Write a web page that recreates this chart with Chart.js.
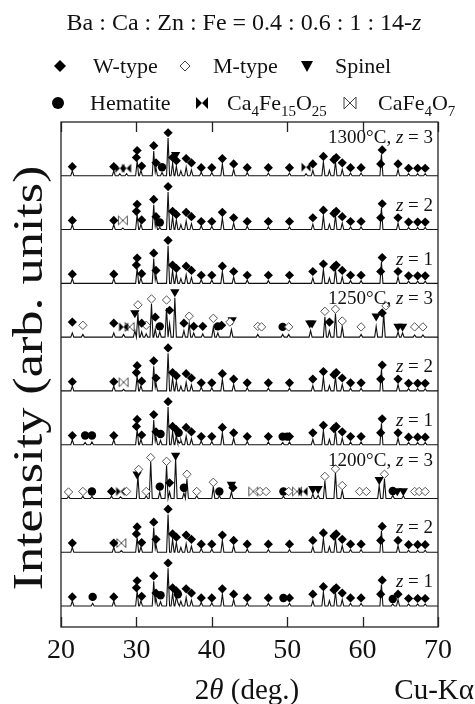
<!DOCTYPE html>
<html>
<head>
<meta charset="utf-8">
<script src="https://cdn.jsdelivr.net/npm/chart.js@4.4.1/dist/chart.umd.min.js"></script>
<style>
  html, body { margin: 0; padding: 0; background: #fff; }
  canvas { display: block; }
</style>
</head>
<body>
<canvas id="xrdChart" width="475" height="704"></canvas>
<script>
const SERIF = '"Liberation Serif", "DejaVu Serif", serif';

// patterns from top to bottom
const patternTemps = ['1300°C, ', '', '', '1250°C, ', '', '', '1200°C, ', '', ''];
const patternZ = [3, 2, 1, 3, 2, 1, 3, 2, 1];
const xTicks = [20, 30, 40, 50, 60, 70];
const patternSpacing = 100;

// W-type pattern: peaks [2theta, intensity] and marker heights
const wPeaks = [[21.5, 9], [27.0, 9], [30.1, 28], [30.6, 10], [32.3, 46], [32.6, 14], [34.2, 70], [34.8, 24], [35.3, 18], [35.9, 9], [36.6, 16], [37.3, 11], [38.6, 7], [40.0, 6], [41.4, 22], [42.9, 12], [44.7, 6], [47.5, 5], [50.3, 5], [53.4, 10], [54.8, 26], [55.6, 10], [56.4, 26], [57.3, 12], [58.4, 5], [59.8, 5], [62.5, 40], [64.7, 12], [66.1, 4], [67.3, 4], [68.3, 4]];
const wMarks = [[21.5, 17], [27.0, 17], [30.0, 34], [30.1, 47], [30.7, 18], [32.3, 56], [32.6, 24], [34.2, 80], [34.8, 34], [35.3, 28], [36.6, 32], [37.3, 24], [38.6, 15], [40.0, 15], [41.4, 32], [42.9, 22], [44.7, 15], [47.5, 15], [50.3, 15], [53.4, 22], [54.8, 36], [56.2, 30], [56.5, 34], [57.3, 24], [58.4, 15], [59.8, 15], [62.4, 22], [62.6, 48], [64.7, 22], [66.1, 14], [67.3, 14], [68.3, 14]];

// extra peaks on top of the W-type pattern
const p0Extra = [[27.8, 4], [28.7, 4], [33.4, 6], [52.5, 4]];
const p1Extra = [[28.2, 3], [33.1, 4]];
const p4Extra = [[28.3, 3]];
const p5Extra = [[23.2, 4], [24.1, 5], [33.2, 8], [35.6, 6], [49.4, 4]];
const p7Extra = [[28.0, 3]];
const p8Extra = [[24.2, 5], [33.2, 8], [35.5, 6], [64.0, 4]];

// 1250 C, z = 3
const p3Peaks = [[21.5, 8], [22.9, 5], [27.0, 8], [28.3, 5], [29.8, 12], [30.2, 45], [30.7, 10], [31.3, 6], [32.0, 62], [32.5, 15], [33.1, 10], [34.0, 54], [34.4, 25], [35.1, 73], [36.3, 12], [37.0, 25], [37.6, 8], [38.8, 6], [40.2, 18], [40.8, 8], [42.6, 14], [46.1, 5], [49.4, 5], [50.2, 5], [53.1, 12], [55.0, 38], [55.6, 12], [56.4, 44], [57.3, 20], [59.8, 5], [61.8, 20], [62.8, 44], [64.7, 10], [65.3, 8], [66.9, 4], [68.0, 4]];
const p3W = [[21.5, 28], [27.0, 26], [30.7, 26], [32.5, 37], [34.4, 50], [36.3, 26], [37.6, 20], [38.8, 20], [41.3, 22], [55.6, 28], [62.6, 45]];
const p3M = [[22.9, 22], [30.2, 60], [31.3, 22], [32.0, 71], [34.0, 69], [37.0, 39], [40.2, 35], [42.4, 28], [46.1, 20], [46.6, 19], [50.2, 19], [55.0, 48], [56.4, 52], [57.3, 30], [59.8, 19], [63.1, 58], [66.9, 19], [68.0, 19]];
const p3S = [[29.8, 45], [35.1, 84], [42.7, 32], [53.0, 26], [53.3, 26], [61.8, 39], [64.7, 20], [65.3, 20]];
const p3H = [[33.1, 20], [40.8, 20], [49.4, 19]];

// 1200 C, z = 3
const p6Peaks = [[21.0, 4], [22.9, 4], [24.1, 4], [26.7, 4], [27.9, 3], [30.2, 42], [31.3, 5], [31.9, 68], [33.1, 12], [34.0, 62], [34.4, 12], [35.2, 74], [36.3, 10], [36.7, 36], [38.0, 5], [40.2, 22], [41.0, 5], [42.6, 12], [49.5, 4], [53.4, 8], [54.1, 6], [55.0, 33], [56.4, 48], [57.3, 15], [62.2, 24], [62.9, 36], [64.0, 6], [65.4, 5]];
const p6W = [[26.7, 13], [34.4, 29], [42.8, 20]];
const p6M = [[21.0, 12], [22.9, 13], [28.7, 13], [30.3, 54], [31.3, 13], [31.9, 76], [34.0, 69], [36.7, 45], [38.0, 13], [40.2, 30], [46.4, 13], [47.2, 13], [50.2, 13], [55.0, 41], [56.4, 55], [57.3, 24], [59.6, 13], [60.5, 13], [62.9, 45], [66.9, 13], [67.5, 13], [68.3, 13]];
const p6S = [[30.1, 45], [35.2, 80], [42.6, 26], [53.4, 18], [54.1, 18], [62.2, 35], [64.6, 14], [65.4, 14]];
const p6H = [[24.1, 13], [33.1, 22], [36.3, 20], [41.0, 13], [49.5, 13], [64.0, 14]];

// markers of each phase, one list per pattern (top to bottom)
const wTypeMarks = [wMarks, wMarks, wMarks, p3W, wMarks, wMarks, p6W, wMarks, wMarks];
const mTypeMarks = [[], [], [], p3M, [], [], p6M, [], []];
const spinelMarks = [[[35.2, 39]], [], [], p3S, [], [], p6S, [], []];
const hematiteMarks = [[[33.4, 16]], [[33.1, 13]], [], p3H, [], [[23.2, 17], [24.1, 17], [33.2, 20], [35.6, 22], [49.4, 15], [50.0, 15]], p6H, [], [[24.2, 17], [33.2, 20], [35.5, 22], [49.5, 15], [64.0, 13]]];
const ca4Marks = [[[27.8, 14], [28.7, 14], [52.5, 16]], [], [], [[28.3, 19]], [], [], [[27.9, 13], [52.1, 13]], [], []];
const cafe4o7Marks = [[], [[28.2, 17]], [], [[29.1, 19]], [[28.3, 16]], [], [[45.5, 13], [51.3, 13]], [[28.0, 17]], []];

const patternPeaks = [
  wPeaks.concat(p0Extra), wPeaks.concat(p1Extra), wPeaks,
  p3Peaks, wPeaks.concat(p4Extra), wPeaks.concat(p5Extra),
  p6Peaks, wPeaks.concat(p7Extra), wPeaks.concat(p8Extra)
];

const HALF_WIDTH = 0.2;

function baseOf(i) {
  return (patternPeaks.length - 1 - i) * patternSpacing;
}

// piecewise linear profile built from the peak list
function profile(peaks, base) {
  const xs = new Set([20, 70]);
  peaks.forEach(([t]) => {
    xs.add(+(t - HALF_WIDTH).toFixed(3));
    xs.add(t);
    xs.add(+(t + HALF_WIDTH).toFixed(3));
  });
  return [...xs].sort((a, b) => a - b).map(x => {
    let y = 0;
    peaks.forEach(([t, h]) => {
      const d = Math.abs(x - t);
      if (d < HALF_WIDTH) y += h * (1 - d / HALF_WIDTH);
    });
    return { x, y: base + y };
  });
}

function toPoints(lists) {
  const pts = [];
  lists.forEach((list, i) => {
    list.forEach(([t, h]) => pts.push({ x: t, y: baseOf(i) + h }));
  });
  return pts;
}

function bowtie(filled) {
  const c = document.createElement('canvas');
  c.width = 12;
  c.height = 12;
  const g = c.getContext('2d');
  g.beginPath();
  g.moveTo(1.5, 1.5); g.lineTo(6, 6); g.lineTo(1.5, 10.5); g.closePath();
  g.moveTo(10.5, 1.5); g.lineTo(6, 6); g.lineTo(10.5, 10.5); g.closePath();
  if (filled) {
    g.fillStyle = '#000';
    g.fill();
  } else {
    g.fillStyle = '#fff';
    g.fill();
    g.strokeStyle = '#555';
    g.lineWidth = 1;
    g.stroke();
  }
  return c;
}
const bowFilled = bowtie(true);
const bowOpen = bowtie(false);

const markerDefs = [
  { data: toPoints(wTypeMarks), pointStyle: 'rectRot', pointRadius: 4.6, backgroundColor: '#000', borderColor: '#000', borderWidth: 0 },
  { data: toPoints(mTypeMarks), pointStyle: 'rectRot', pointRadius: 4.2, backgroundColor: '#fff', borderColor: '#555', borderWidth: 1 },
  { data: toPoints(spinelMarks), pointStyle: 'triangle', rotation: 180, pointRadius: 5.4, backgroundColor: '#000', borderColor: '#000', borderWidth: 0 },
  { data: toPoints(hematiteMarks), pointStyle: 'circle', pointRadius: 4.2, backgroundColor: '#000', borderColor: '#000', borderWidth: 0 },
  { data: toPoints(ca4Marks), pointStyle: bowFilled, pointRadius: 5 },
  { data: toPoints(cafe4o7Marks), pointStyle: bowOpen, pointRadius: 5 }
];

const datasets = markerDefs.map(m => Object.assign({ showLine: false, pointHoverRadius: 0 }, m));
patternPeaks.forEach((peaks, i) => {
  datasets.push({
    data: profile(peaks, baseOf(i)),
    borderColor: '#111',
    borderWidth: 1.1,
    pointRadius: 0,
    tension: 0,
    fill: false
  });
});

function drawRich(ctx, parts, x, y, size, align) {
  const fontFor = s => (s === 'i' ? 'italic ' : '') + (s === 'sub' ? Math.round(size * 0.66) : size) + 'px ' + SERIF;
  let total = 0;
  parts.forEach(([t, s]) => { ctx.font = fontFor(s); total += ctx.measureText(t).width; });
  let cx = align === 'right' ? x - total : align === 'center' ? x - total / 2 : x;
  ctx.textAlign = 'left';
  ctx.textBaseline = 'alphabetic';
  parts.forEach(([t, s]) => {
    ctx.font = fontFor(s);
    ctx.fillText(t, cx, s === 'sub' ? y + size * 0.28 : y);
    cx += ctx.measureText(t).width;
  });
  return total;
}

function legendMarker(ctx, kind, x, y) {
  ctx.save();
  ctx.fillStyle = '#000';
  ctx.strokeStyle = '#444';
  ctx.lineWidth = 1;
  ctx.beginPath();
  if (kind === 'W') {
    ctx.moveTo(x, y - 6); ctx.lineTo(x + 6, y); ctx.lineTo(x, y + 6); ctx.lineTo(x - 6, y); ctx.closePath(); ctx.fill();
  } else if (kind === 'M') {
    ctx.moveTo(x, y - 5); ctx.lineTo(x + 5, y); ctx.lineTo(x, y + 5); ctx.lineTo(x - 5, y); ctx.closePath(); ctx.stroke();
  } else if (kind === 'S') {
    ctx.moveTo(x - 6, y - 5); ctx.lineTo(x + 6, y - 5); ctx.lineTo(x, y + 6); ctx.closePath(); ctx.fill();
  } else if (kind === 'H') {
    ctx.arc(x, y, 6, 0, Math.PI * 2); ctx.fill();
  } else {
    ctx.moveTo(x - 6, y - 6); ctx.lineTo(x, y); ctx.lineTo(x - 6, y + 6); ctx.closePath();
    ctx.moveTo(x + 6, y - 6); ctx.lineTo(x, y); ctx.lineTo(x + 6, y + 6); ctx.closePath();
    if (kind === 'C') ctx.fill(); else ctx.stroke();
  }
  ctx.restore();
}

const decorPlugin = {
  id: 'decor',
  afterDraw(chart) {
    const { ctx, chartArea: a, scales } = chart;
    const xs = scales.x, ys = scales.y;
    ctx.save();
    ctx.fillStyle = '#111';

    // frame, inward ticks and tick labels
    ctx.strokeStyle = '#222';
    ctx.lineWidth = 1.3;
    ctx.strokeRect(a.left, a.top, a.right - a.left, a.bottom - a.top);
    xTicks.forEach(v => {
      const px = Math.round(xs.getPixelForValue(v)) + 0.5;
      ctx.beginPath();
      ctx.moveTo(px, a.bottom); ctx.lineTo(px, a.bottom - 10);
      ctx.moveTo(px, a.top); ctx.lineTo(px, a.top + 10);
      ctx.stroke();
      drawRich(ctx, [[String(v), 'n']], xs.getPixelForValue(v), a.bottom + 31, 28, 'center');
    });

    // pattern labels
    patternZ.forEach((z, i) => {
      const off = patternTemps[i] ? 74 : 48;
      const py = ys.getPixelForValue(baseOf(i) + off) + 7;
      const parts = [];
      if (patternTemps[i]) parts.push([patternTemps[i], 'n']);
      parts.push(['z', 'i'], [' = ' + z, 'n']);
      drawRich(ctx, parts, a.right - 5, py, 19, 'right');
    });

    // heading and legend
    drawRich(ctx, [['Ba : Ca : Zn : Fe = 0.4 : 0.6 : 1 : 14-', 'n'], ['z', 'i']], 244, 30, 24, 'center');
    legendMarker(ctx, 'W', 60, 66);
    drawRich(ctx, [['W-type', 'n']], 93, 73, 22, 'left');
    legendMarker(ctx, 'M', 185, 66);
    drawRich(ctx, [['M-type', 'n']], 213, 73, 22, 'left');
    legendMarker(ctx, 'S', 307, 66);
    drawRich(ctx, [['Spinel', 'n']], 335, 73, 22, 'left');
    legendMarker(ctx, 'H', 58, 103);
    drawRich(ctx, [['Hematite', 'n']], 90, 110, 22, 'left');
    legendMarker(ctx, 'C', 202, 103);
    drawRich(ctx, [['Ca', 'n'], ['4', 'sub'], ['Fe', 'n'], ['15', 'sub'], ['O', 'n'], ['25', 'sub']], 227, 110, 22, 'left');
    legendMarker(ctx, 'O', 350, 103);
    drawRich(ctx, [['CaFe', 'n'], ['4', 'sub'], ['O', 'n'], ['7', 'sub']], 378, 110, 22, 'left');

    // axis titles
    drawRich(ctx, [['2', 'n'], ['θ', 'i'], [' (deg.)', 'n']], 247, 699, 29, 'center');
    drawRich(ctx, [['Cu-Kα', 'n']], 474, 699, 29, 'right');

    // y title, stretched along its length like the original
    const ySize = 42;
    ctx.font = ySize + 'px ' + SERIF;
    const natural = ctx.measureText('Intensity (arb. units)').width;
    ctx.save();
    ctx.translate(42, 378);
    ctx.rotate(-Math.PI / 2);
    ctx.scale(425 / natural, 1);
    drawRich(ctx, [['Intensity (arb. units)', 'n']], 0, 0, ySize, 'center');
    ctx.restore();

    ctx.restore();
  }
};

new Chart(document.getElementById('xrdChart'), {
  type: 'line',
  data: { datasets },
  options: {
    responsive: false,
    animation: false,
    events: [],
    layout: { padding: { left: 61, right: 37, top: 122, bottom: 77 } },
    plugins: { legend: { display: false }, tooltip: { enabled: false } },
    scales: {
      x: { type: 'linear', display: false, min: 20, max: 70 },
      y: { display: false, min: -39, max: 900 }
    }
  },
  plugins: [decorPlugin]
});
</script>
</body>
</html>
